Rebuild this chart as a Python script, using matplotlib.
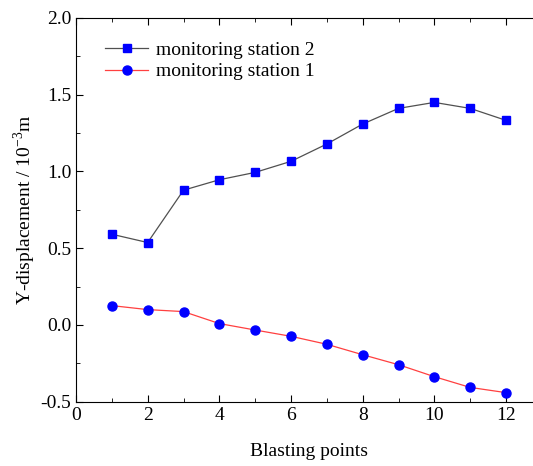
import matplotlib.pyplot as plt
from matplotlib.ticker import MultipleLocator

plt.rcParams['font.family'] = ['Liberation Serif', 'DejaVu Serif']
plt.rcParams['mathtext.fontset'] = 'custom'
plt.rcParams['mathtext.rm'] = 'Liberation Serif'
plt.rcParams['axes.unicode_minus'] = False

points = list(range(1, 13))
station2 = [0.591, 0.537, 0.878, 0.946, 0.994, 1.066, 1.179, 1.309, 1.411, 1.450, 1.411, 1.333]
station1 = [0.126, 0.100, 0.087, 0.009, -0.033, -0.074, -0.126, -0.194, -0.259, -0.337, -0.407, -0.441]

fig = plt.figure(figsize=(5.33, 4.66), dpi=100)
ax = fig.add_axes([0.1426, 0.138, 0.874, 0.8234])

ax.plot(points, station2, color='#505050', lw=0.9, marker='s', ms=5.5,
        mfc='blue', mec='blue', label='monitoring station 2')
ax.plot(points, station1, color='#ff4040', lw=0.9, marker='o', ms=6.5,
        mfc='blue', mec='blue', label='monitoring station 1')

ax.set_xlim(0, 13)
ax.set_ylim(-0.5, 2.0)
ax.xaxis.set_major_locator(MultipleLocator(2))
ax.xaxis.set_minor_locator(MultipleLocator(1))
ax.yaxis.set_major_locator(MultipleLocator(0.5))
ax.yaxis.set_minor_locator(MultipleLocator(0.25))
ax.tick_params(which='both', direction='in', top=True, right=True, labelsize=14)
ax.tick_params(which='major', length=5)
ax.tick_params(which='minor', length=3)

ax.set_xlabel('Blasting points', fontsize=14, labelpad=14)
ax.set_ylabel('Y-displacement / 10$^{\\mathrm{-3}}$m', fontsize=14, labelpad=2)

ax.legend(loc='upper left', frameon=False, fontsize=14, bbox_to_anchor=(0.025, 0.985),
          handlelength=2.2, handletextpad=0.4, labelspacing=0.2)

fig.savefig('out.png', dpi=100)
